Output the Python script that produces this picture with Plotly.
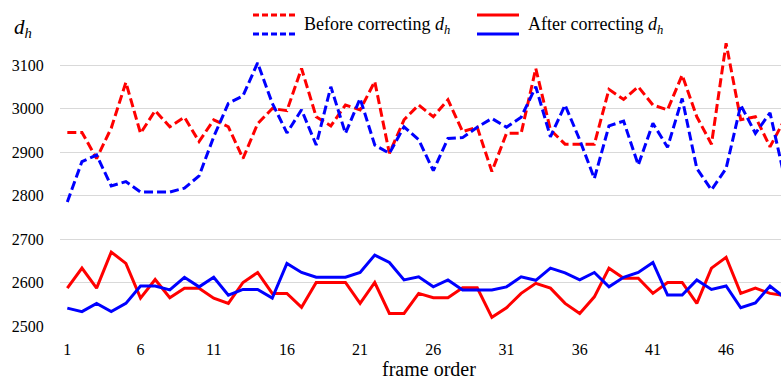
import plotly.graph_objects as go

frames = list(range(1, 51))
x_ticks = [1, 6, 11, 16, 21, 26, 31, 36, 41, 46]
y_ticks = [2500, 2600, 2700, 2800, 2900, 3000, 3100]

before_red = [2945, 2945, 2885, 2955, 3060, 2943, 2995, 2958, 2980, 2924,
              2974, 2958, 2885, 2965, 3000, 2995, 3092, 2981, 2960, 3008,
              2997, 3062, 2897, 2974, 3008, 2981, 3020, 2947, 2957, 2855,
              2943, 2943, 3092, 2951, 2918, 2918, 2918, 3044, 3021, 3050,
              3008, 2997, 3077, 2981, 2918, 3150, 2974, 2981, 2912, 2975]
before_blue = [2785, 2878, 2893, 2822, 2832, 2808, 2808, 2808, 2817, 2845,
               2935, 3012, 3029, 3105, 3012, 2944, 2997, 2916, 3050, 2943,
               3023, 2916, 2897, 2958, 2928, 2857, 2931, 2933, 2957, 2977,
               2957, 2980, 3050, 2935, 3008, 2928, 2839, 2960, 2971, 2870,
               2966, 2911, 3023, 2862, 2813, 2862, 3008, 2943, 2990, 2840]
after_red = [2587, 2633, 2587, 2670, 2644, 2564, 2607, 2565, 2587, 2587,
             2564, 2552, 2600, 2623, 2575, 2575, 2543, 2600, 2600, 2600,
             2552, 2600, 2529, 2529, 2575, 2565, 2565, 2588, 2588, 2520,
             2542, 2575, 2598, 2587, 2552, 2529, 2567, 2633, 2610, 2610,
             2575, 2600, 2600, 2552, 2633, 2658, 2575, 2587, 2575, 2570]
after_blue = [2541, 2533, 2552, 2533, 2552, 2592, 2592, 2583, 2612, 2590,
              2612, 2571, 2584, 2584, 2564, 2644, 2623, 2612, 2612, 2612,
              2623, 2663, 2646, 2606, 2613, 2590, 2606, 2583, 2583, 2583,
              2590, 2613, 2605, 2633, 2622, 2606, 2623, 2590, 2612, 2623,
              2646, 2571, 2571, 2606, 2584, 2592, 2542, 2553, 2592, 2565]

RED = "#FF0000"
BLUE = "#0000FF"
FONT = "Liberation Serif"

W, H = 781, 382
L, R, T, B = 60, 0, 35, 55
PW, PH = W - L - R, H - T - B


def px(x):
    return (x - L) / PW


def py(y):
    return (H - B - y) / PH


fig = go.Figure()
fig.add_trace(go.Scatter(x=frames, y=before_red, mode="lines",
                         line=dict(color=RED, width=3, dash="9px,4px")))
fig.add_trace(go.Scatter(x=frames, y=before_blue, mode="lines",
                         line=dict(color=BLUE, width=3, dash="9px,4px")))
fig.add_trace(go.Scatter(x=frames, y=after_red, mode="lines",
                         line=dict(color=RED, width=3)))
fig.add_trace(go.Scatter(x=frames, y=after_blue, mode="lines",
                         line=dict(color=BLUE, width=3)))

# custom legend
shapes = []
for (x0, x1, yy, col, dash) in [
    (253, 295, 15, RED, "6px,3px"),
    (253, 295, 34, BLUE, "6px,3px"),
    (477, 519, 15, RED, "solid"),
    (477, 519, 34, BLUE, "solid"),
]:
    shapes.append(dict(type="line", xref="paper", yref="paper",
                       x0=px(x0), x1=px(x1), y0=py(yy), y1=py(yy),
                       line=dict(color=col, width=3, dash=dash)))

annotations = [
    dict(text="Before correcting <i>d<sub>h</sub></i>", xref="paper", yref="paper",
         x=px(302), y=py(26), xanchor="left", yanchor="middle", showarrow=False,
         font=dict(family=FONT, size=18, color="#000")),
    dict(text="After correcting <i>d<sub>h</sub></i>", xref="paper", yref="paper",
         x=px(526), y=py(26), xanchor="left", yanchor="middle", showarrow=False,
         font=dict(family=FONT, size=18, color="#000")),
    dict(text="<i>d<sub>h</sub></i>", xref="paper", yref="paper",
         x=px(12), y=py(28), xanchor="left", yanchor="middle", showarrow=False,
         font=dict(family=FONT, size=21, color="#000")),
    dict(text="frame order", xref="paper", yref="paper",
         x=px(429), y=py(369), xanchor="center", yanchor="middle", showarrow=False,
         font=dict(family=FONT, size=20, color="#000")),
]

per_px = 600 / 261
ymin = 2500 - 1 * per_px
ymax = ymin + PH * per_px

fig.update_layout(
    width=W, height=H,
    margin=dict(l=L, r=R, t=T, b=B, pad=0),
    paper_bgcolor="white", plot_bgcolor="white",
    showlegend=False,
    shapes=shapes,
    annotations=annotations,
    font=dict(family=FONT, size=16, color="#000"),
    xaxis=dict(range=[0.5, 49.75], tickvals=x_ticks, ticktext=[str(v) for v in x_ticks],
               showgrid=False, zeroline=False, showline=False,
               ticks="outside", ticklen=8, tickcolor="rgba(0,0,0,0)",
               tickfont=dict(family=FONT, size=16, color="#000")),
    yaxis=dict(range=[ymin, ymax], tickvals=y_ticks, ticktext=[str(v) for v in y_ticks],
               showgrid=True, gridcolor="#d9d9d9", gridwidth=1,
               zeroline=False, showline=False,
               ticks="outside", ticklen=12, tickcolor="rgba(0,0,0,0)",
               tickfont=dict(family=FONT, size=16, color="#000")),
)

fig.write_html("out.html")
